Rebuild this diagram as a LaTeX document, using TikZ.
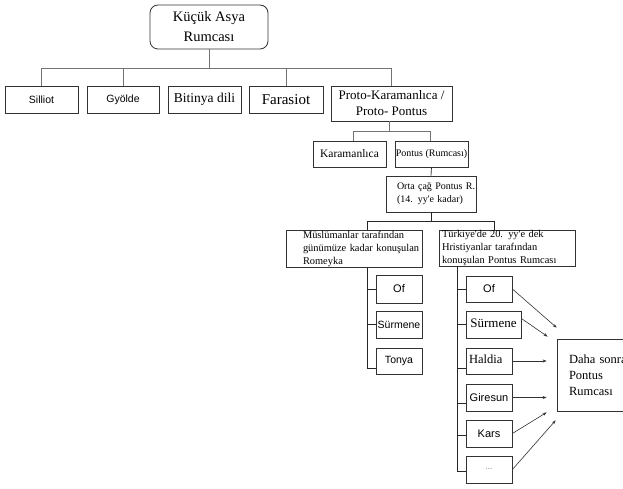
\documentclass[tikz,border=0pt]{standalone}
\usepackage{fontspec}
\setmainfont{Liberation Serif}
\setsansfont{Liberation Sans}
\usetikzlibrary{arrows.meta}
\begin{document}
\begin{tikzpicture}[x=1pt,y=-1pt,
  bx/.style={draw=black!80, line width=0.8pt, inner sep=0pt, align=center, anchor=center},
  conn/.style={draw=black!55, line width=0.8pt},
  lconn/.style={draw=black!85, line width=0.7pt},
  arr/.style={draw=black!80, line width=0.6pt, -{Stealth[length=4pt,width=3pt]}},
  sansA/.style={font=\fontsize{10.5}{12}\selectfont\sffamily},
  sansB/.style={font=\fontsize{11}{12}\selectfont\sffamily},
  serA/.style={font=\fontsize{10.4}{13}\selectfont},
]
\fill[white] (0,0) rectangle (623,489);
\useasboundingbox (0,0) rectangle (623,489);

% top level
\node[bx, rounded corners=8pt, minimum width=118pt, minimum height=44pt,
      font=\fontsize{14.5}{20}\selectfont] (root) at (209,27) {Küçük Asya\\Rumcası};
\node[bx, sansA, minimum width=73pt, minimum height=27pt] (silliot) at (41.5,99.5) {Silliot};
\node[bx, sansA, minimum width=72pt, minimum height=27pt] (gyolde) at (123,99.5) {Gyölde};
\node[bx, font=\fontsize{13.5}{15}\selectfont, minimum width=73pt, minimum height=27pt] (bitinya) at (204.5,99.5) {Bitinya dili};
\node[bx, font=\fontsize{15}{17}\selectfont, minimum width=74pt, minimum height=27pt] (farasiot) at (286,99.5) {Farasiot};
\node[bx, font=\fontsize{13}{16}\selectfont, minimum width=121pt, minimum height=35pt] (proto) at (391.5,103.5) {Proto-Karamanlıca /\\Proto- Pontus};

\coordinate (bus1) at (0,68);
\draw[conn] (root.south) -- (root.south |- bus1);
\draw[conn] (silliot.north) -- (silliot.north |- bus1) -- (proto.north |- bus1) -- (proto.north);
\draw[conn] (gyolde.north) -- (gyolde.north |- bus1);
\draw[conn] (farasiot.north) -- (farasiot.north |- bus1);

% second level
\node[bx, font=\fontsize{11.5}{13}\selectfont, minimum width=73pt, minimum height=26pt] (karam) at (349.5,154) {Karamanlıca};
\node[bx, font=\fontsize{10}{12}\selectfont, minimum width=73pt, minimum height=26pt] (pontus) at (431.5,154) {Pontus (Rumcası)};
\coordinate (bus2) at (0,131);
\draw[conn] ([xshift=-2.5pt]proto.south) -- ([xshift=-2.5pt]proto.south |- bus2);
\draw[conn] ([xshift=3.5pt]karam.north) -- ([xshift=3.5pt]karam.north |- bus2) -- ([xshift=-1.5pt]pontus.north |- bus2) -- ([xshift=-1.5pt]pontus.north);

\node[bx, font=\fontsize{10}{13}\selectfont, align=left, text width=68pt, minimum width=90pt, minimum height=36pt] (orta) at (431,194)
  {\mbox{Orta çağ Pontus R.}\\\mbox{(14. yy\textquotesingle e kadar)}};
\draw[lconn] (pontus.south) -- (orta.north);

\node[bx, serA, align=left, text width=102pt, minimum width=136pt, minimum height=37pt] (mus) at (354,248.5)
  {\mbox{Müslümanlar tarafından}\\\mbox{günümüze kadar konuşulan}\\\mbox{Romeyka}};
\node[bx, serA, align=left, text width=130pt, minimum width=136pt, minimum height=36pt] (tur) at (507,248)
  {\mbox{Türkiye\textquotesingle de 20. yy\textquotesingle e dek}\\\mbox{Hristiyanlar tarafından}\\\mbox{konuşulan Pontus Rumcası}};

\coordinate (bus3) at (0,221);
\draw[lconn] (orta.south) -- (orta.south |- bus3);
\draw[lconn] ([xshift=13pt]mus.north) -- ([xshift=13pt]mus.north |- bus3) -- ([xshift=-13pt]tur.north |- bus3) -- ([xshift=-13pt]tur.north);

% left column
\node[bx, sansB, minimum width=46pt, minimum height=28pt] (lof) at (399,289) {Of};
\node[bx, sansA, minimum width=46pt, minimum height=27pt] (lsur) at (399,324.5) {Sürmene};
\node[bx, sansA, minimum width=46pt, minimum height=26pt] (ltonya) at (399,361) {Tonya};
\coordinate (colL) at ([xshift=13pt]mus.south);
\draw[lconn] (colL) |- ([yshift=-7pt]ltonya.west);
\draw[lconn] (lof.west) -- (lof.west -| colL);
\draw[lconn] (lsur.west) -- (lsur.west -| colL);

% right column
\node[bx, sansB, minimum width=46pt, minimum height=26pt] (rof) at (489,289) {Of};
\node[bx, font=\fontsize{13}{14}\selectfont, minimum width=55pt, minimum height=27pt] (rsur) at (493.5,324.5) {\raisebox{3pt}{Sürmene}};
\node[bx, font=\fontsize{12.5}{14}\selectfont, align=left, text width=40pt, minimum width=46pt, minimum height=26pt] (rhal) at (489,361) {\raisebox{3pt}{Haldia}};
\node[bx, sansB, minimum width=46pt, minimum height=27pt] (rgir) at (489,397.5) {Giresun};
\node[bx, sansB, minimum width=46pt, minimum height=27pt] (rkars) at (489,433.5) {Kars};
\node[bx, font=\fontsize{8}{9}\selectfont\sffamily, text=black!55, minimum width=46pt, minimum height=27pt] (rdots) at (489,469.5) {...};
\coordinate (colR) at ([xshift=-50pt]tur.south);
\draw[lconn] (colR) |- ([yshift=-1.5pt]rdots.west);
\draw[lconn] (rof.west) -- (rof.west -| colR);
\draw[lconn] (rsur.west) -- (rsur.west -| colR);
\draw[lconn] ([yshift=-7pt]rhal.west) -- ([yshift=-7pt]rhal.west -| colR);
\draw[lconn] ([yshift=-5.5pt]rgir.west) -- ([yshift=-5.5pt]rgir.west -| colR);
\draw[lconn] ([yshift=-1.5pt]rkars.west) -- ([yshift=-1.5pt]rkars.west -| colR);

% target box (cut off at the right edge, as in the reference)
\node[bx, font=\fontsize{12.5}{16}\selectfont, align=left, inner xsep=12pt, text width=76pt, minimum width=100pt, minimum height=72pt] (daha) at (607,375)
  {Daha sonra\\Pontus\\Rumcası};
\coordinate (t1) at ([yshift=11pt]daha.north west);
\coordinate (t2) at ([xshift=-9pt,yshift=2pt]daha.north west);
\coordinate (tx) at ([xshift=-10pt]daha.west);
\coordinate (t5) at ([xshift=-10pt,yshift=-1pt]daha.south west);
\coordinate (t6) at ([xshift=-1pt,yshift=-9pt]daha.south west);
\draw[arr] (rof.east) -- (t1);
\draw[arr] ([yshift=6pt]rsur.east) -- (t2);
\draw[arr] (rhal.east) -- (rhal.east -| tx);
\draw[arr] (rgir.east) -- (rgir.east -| tx);
\draw[arr] (rkars.east) -- (t5);
\draw[arr] (rdots.east) -- (t6);
\end{tikzpicture}
\end{document}
